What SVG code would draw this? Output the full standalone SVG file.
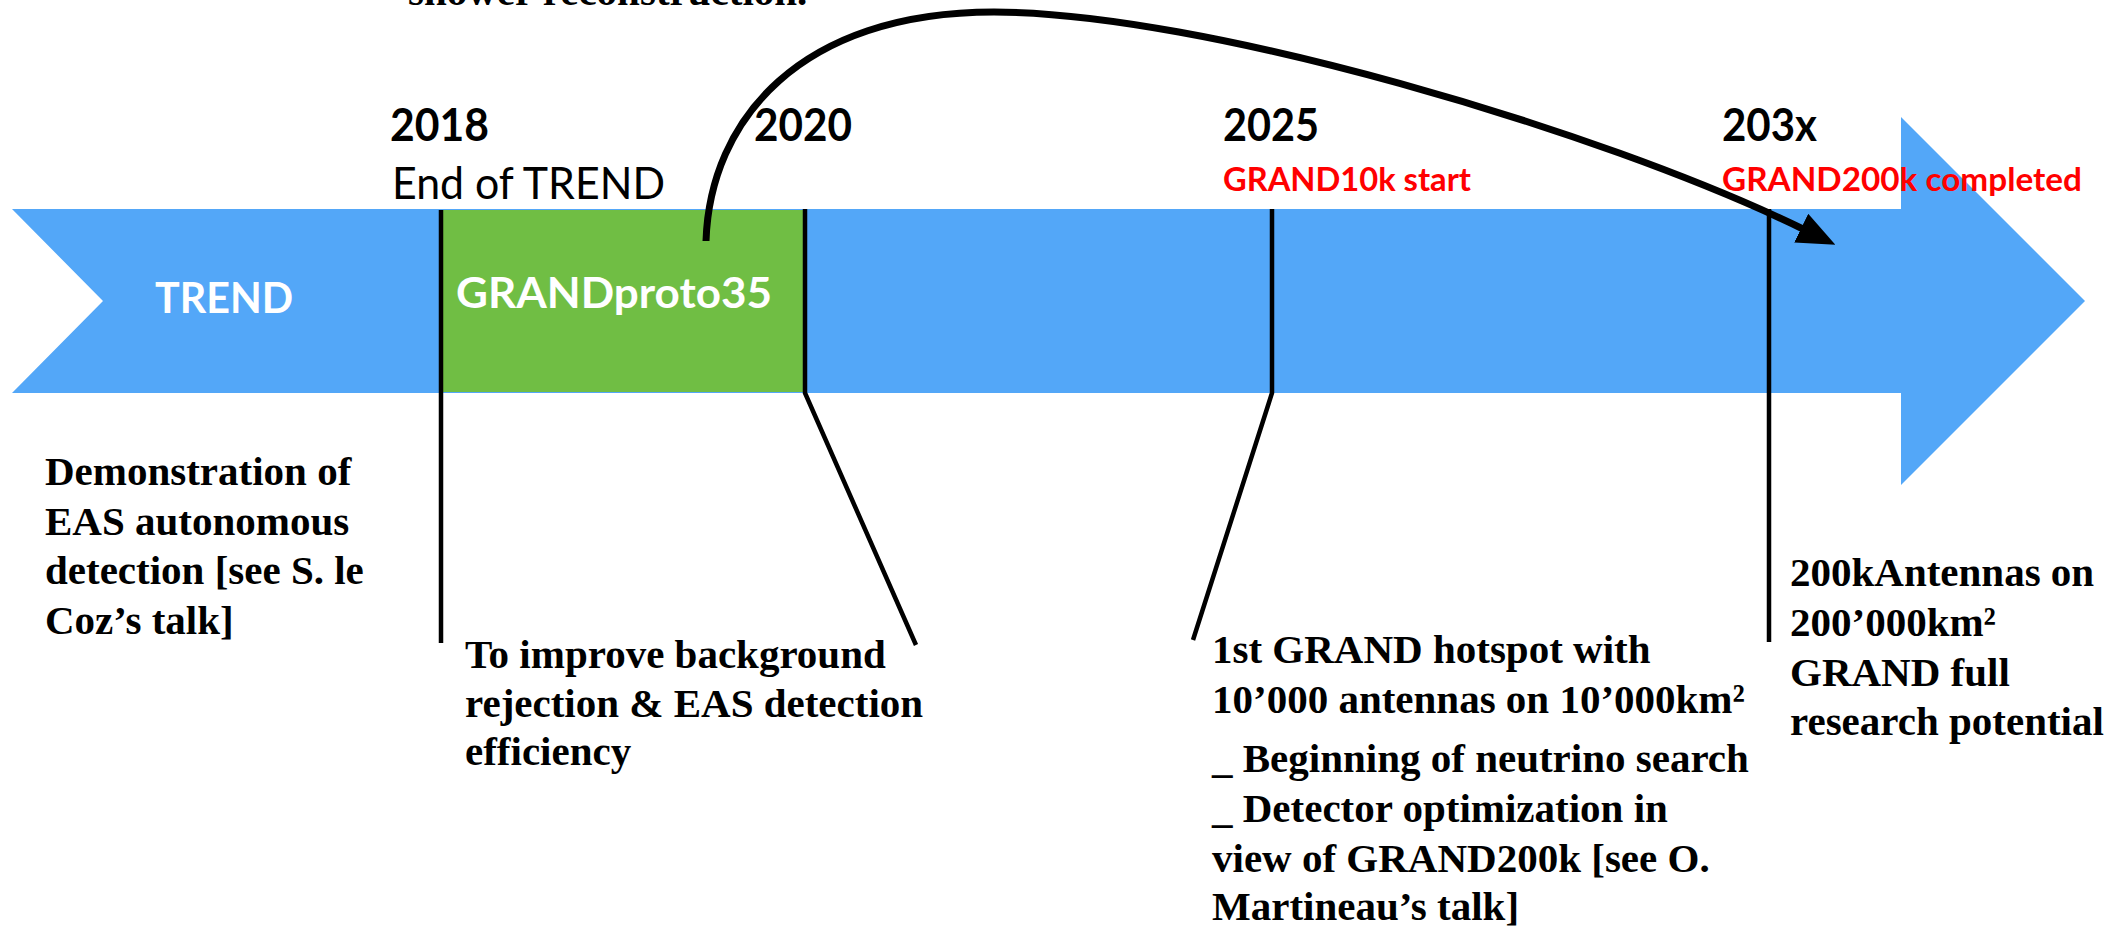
<svg xmlns="http://www.w3.org/2000/svg" width="2128" height="927" viewBox="0 0 2128 927">
<style>
.yr{font-family:Lato,"Open Sans",sans-serif;font-weight:700;font-size:45px;fill:#000}
.sub{font-family:Lato,"Open Sans",sans-serif;font-weight:400;font-size:44px;fill:#000}
.red{font-family:Lato,"Open Sans",sans-serif;font-weight:700;font-size:32px;fill:#FF0000}
.lab{font-family:Lato,"Open Sans",sans-serif;font-weight:700;font-size:42px;fill:#FFFFFF}
.note{font-family:"Liberation Serif","Times New Roman",serif;font-weight:700;font-size:41px;fill:#000}
.tick{stroke:#000;stroke-width:4.5;fill:none}
.curve{stroke:#000;stroke-width:7;fill:none}
</style>
<defs>
<marker id="ah" markerUnits="userSpaceOnUse" viewBox="0 0 38 32" refX="2" refY="16" markerWidth="38" markerHeight="32" orient="auto">
<path d="M0,0 L38,16 L0,32 Z" fill="#000"/>
</marker>
</defs>
<rect width="2128" height="927" fill="#FFFFFF"/>

<g id="timeline">
<polygon points="12,209 1901,209 1901,117 2085,301 1901,485 1901,393 12,393 103,301" fill="#53A7F8"/>
</g>

<g id="grandproto35">
<rect x="441" y="210" width="364" height="182" fill="#70BE44"/>
<text class="lab" x="456" y="308" textLength="316" lengthAdjust="spacingAndGlyphs">GRANDproto35</text>
</g>

<g id="trend">
<text class="lab" x="155" y="313" textLength="138" lengthAdjust="spacingAndGlyphs">TREND</text>
</g>

<g id="top-note">
<text class="note" x="408" y="5">shower reconstruction.</text>
</g>

<g id="y2018">
<text class="yr" x="390" y="141" textLength="99" lengthAdjust="spacingAndGlyphs">2018</text>
<text class="sub" x="392" y="199" textLength="273" lengthAdjust="spacingAndGlyphs">End of TREND</text>
</g>

<g id="y2020">
<text class="yr" x="754" y="141" textLength="98" lengthAdjust="spacingAndGlyphs">2020</text>
</g>

<g id="y2025">
<text class="yr" x="1223" y="141" textLength="96" lengthAdjust="spacingAndGlyphs">2025</text>
<text class="red" x="1223" y="191" textLength="248" lengthAdjust="spacingAndGlyphs">GRAND10k start</text>
</g>

<g id="y203x">
<text class="yr" x="1722" y="141" textLength="95" lengthAdjust="spacingAndGlyphs">203x</text>
<text class="red" x="1722" y="191" textLength="360" lengthAdjust="spacingAndGlyphs">GRAND200k completed</text>
</g>

<g id="note-trend">
<text class="note" x="45" y="485">Demonstration of</text>
<text class="note" x="45" y="535">EAS autonomous</text>
<text class="note" x="45" y="584">detection [see S. le</text>
<text class="note" x="45" y="634">Coz’s talk]</text>
</g>

<g id="note-proto">
<text class="note" x="465" y="668">To improve background</text>
<text class="note" x="465" y="717">rejection &amp; EAS detection</text>
<text class="note" x="465" y="765">efficiency</text>
</g>

<g id="note-10k">
<text class="note" x="1212" y="663">1st GRAND hotspot with</text>
<text class="note" x="1212" y="713">10’000 antennas on 10’000km²</text>
<text class="note" x="1212" y="772">_ Beginning of neutrino search</text>
<text class="note" x="1212" y="822">_ Detector optimization in</text>
<text class="note" x="1212" y="872">view of GRAND200k [see O.</text>
<text class="note" x="1212" y="920">Martineau’s talk]</text>
</g>

<g id="note-200k">
<text class="note" x="1790" y="586">200kAntennas on</text>
<text class="note" x="1790" y="636">200’000km²</text>
<text class="note" x="1790" y="686">GRAND full</text>
<text class="note" x="1790" y="735">research potential</text>
</g>

<g id="connectors">
<line class="tick" x1="441" y1="210" x2="441" y2="643"/>
<polyline class="tick" points="805,209 805,393 916,645"/>
<polyline class="tick" points="1272,209 1272,393 1193,640"/>
<line class="tick" x1="1769" y1="209" x2="1769" y2="642"/>
<path class="curve" d="M706,241 C710,120 800,12 994,12 C1200,12 1600,130 1803,229" marker-end="url(#ah)"/>
</g>
</svg>
